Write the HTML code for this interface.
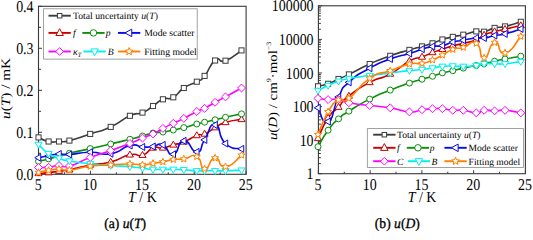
<!DOCTYPE html>
<html><head><meta charset="utf-8"><style>html,body{margin:0;padding:0;background:#fff;width:533px;height:231px;overflow:hidden}</style></head>
<body><svg width="533" height="231" viewBox="0 0 533 231" style="display:block;font-family:'Liberation Serif', serif;text-rendering:geometricPrecision"><rect width="533" height="231" fill="#fff"/><rect x="38.5" y="6.3" width="207.60" height="168.00" fill="none" stroke="#383838" stroke-width="1.1"/><line x1="38.50" y1="174.3" x2="38.50" y2="170.8" stroke="#383838" stroke-width="1"/><line x1="90.40" y1="174.3" x2="90.40" y2="170.8" stroke="#383838" stroke-width="1"/><line x1="142.30" y1="174.3" x2="142.30" y2="170.8" stroke="#383838" stroke-width="1"/><line x1="194.20" y1="174.3" x2="194.20" y2="170.8" stroke="#383838" stroke-width="1"/><line x1="246.10" y1="174.3" x2="246.10" y2="170.8" stroke="#383838" stroke-width="1"/><line x1="64.45" y1="174.3" x2="64.45" y2="172.3" stroke="#383838" stroke-width="1"/><line x1="116.35" y1="174.3" x2="116.35" y2="172.3" stroke="#383838" stroke-width="1"/><line x1="168.25" y1="174.3" x2="168.25" y2="172.3" stroke="#383838" stroke-width="1"/><line x1="220.15" y1="174.3" x2="220.15" y2="172.3" stroke="#383838" stroke-width="1"/><line x1="38.5" y1="174.30" x2="42.0" y2="174.30" stroke="#383838" stroke-width="1"/><line x1="38.5" y1="132.30" x2="42.0" y2="132.30" stroke="#383838" stroke-width="1"/><line x1="38.5" y1="90.30" x2="42.0" y2="90.30" stroke="#383838" stroke-width="1"/><line x1="38.5" y1="48.30" x2="42.0" y2="48.30" stroke="#383838" stroke-width="1"/><line x1="38.5" y1="6.30" x2="42.0" y2="6.30" stroke="#383838" stroke-width="1"/><line x1="38.5" y1="153.30" x2="41.0" y2="153.30" stroke="#383838" stroke-width="1"/><line x1="38.5" y1="111.30" x2="41.0" y2="111.30" stroke="#383838" stroke-width="1"/><line x1="38.5" y1="69.30" x2="41.0" y2="69.30" stroke="#383838" stroke-width="1"/><line x1="38.5" y1="27.30" x2="41.0" y2="27.30" stroke="#383838" stroke-width="1"/><path d="M38.50,137.40 C41.87,138.77 41.77,140.13 48.60,141.50 C55.43,142.87 52.07,141.80 59.00,141.50 C65.93,141.20 59.00,143.13 69.40,140.60 C79.80,138.07 76.43,138.47 90.20,133.90 C103.97,129.33 97.47,132.93 110.70,126.90 C123.93,120.87 119.30,120.57 129.90,115.80 C140.50,111.03 134.80,115.87 142.50,112.60 C150.20,109.33 146.20,110.43 153.00,106.00 C159.80,101.57 156.13,102.20 162.90,99.30 C169.67,96.40 166.33,101.07 173.30,97.30 C180.27,93.53 175.97,93.20 183.80,88.00 C191.63,82.80 189.87,85.73 196.80,81.70 C203.73,77.67 198.50,82.97 204.60,75.90 C210.70,68.83 208.13,65.57 215.10,60.50 C222.07,55.43 216.70,64.07 225.50,60.70 C234.30,57.33 236.17,53.83 241.50,50.40" fill="none" stroke="#3c3c3c" stroke-width="1.6" stroke-linejoin="round"/><rect x="35.95" y="134.85" width="5.10" height="5.10" fill="#fff" stroke="#3c3c3c" stroke-width="1.0"/><rect x="46.05" y="138.95" width="5.10" height="5.10" fill="#fff" stroke="#3c3c3c" stroke-width="1.0"/><rect x="56.45" y="138.95" width="5.10" height="5.10" fill="#fff" stroke="#3c3c3c" stroke-width="1.0"/><rect x="66.85" y="138.05" width="5.10" height="5.10" fill="#fff" stroke="#3c3c3c" stroke-width="1.0"/><rect x="87.65" y="131.35" width="5.10" height="5.10" fill="#fff" stroke="#3c3c3c" stroke-width="1.0"/><rect x="108.15" y="124.35" width="5.10" height="5.10" fill="#fff" stroke="#3c3c3c" stroke-width="1.0"/><rect x="127.35" y="113.25" width="5.10" height="5.10" fill="#fff" stroke="#3c3c3c" stroke-width="1.0"/><rect x="139.95" y="110.05" width="5.10" height="5.10" fill="#fff" stroke="#3c3c3c" stroke-width="1.0"/><rect x="150.45" y="103.45" width="5.10" height="5.10" fill="#fff" stroke="#3c3c3c" stroke-width="1.0"/><rect x="160.35" y="96.75" width="5.10" height="5.10" fill="#fff" stroke="#3c3c3c" stroke-width="1.0"/><rect x="170.75" y="94.75" width="5.10" height="5.10" fill="#fff" stroke="#3c3c3c" stroke-width="1.0"/><rect x="181.25" y="85.45" width="5.10" height="5.10" fill="#fff" stroke="#3c3c3c" stroke-width="1.0"/><rect x="194.25" y="79.15" width="5.10" height="5.10" fill="#fff" stroke="#3c3c3c" stroke-width="1.0"/><rect x="202.05" y="73.35" width="5.10" height="5.10" fill="#fff" stroke="#3c3c3c" stroke-width="1.0"/><rect x="212.55" y="57.95" width="5.10" height="5.10" fill="#fff" stroke="#3c3c3c" stroke-width="1.0"/><rect x="222.95" y="58.15" width="5.10" height="5.10" fill="#fff" stroke="#3c3c3c" stroke-width="1.0"/><rect x="238.95" y="47.85" width="5.10" height="5.10" fill="#fff" stroke="#3c3c3c" stroke-width="1.0"/><path d="M38.50,173.40 C41.87,173.13 41.77,173.33 48.60,172.60 C55.43,171.87 52.07,172.13 59.00,171.20 C65.93,170.27 59.00,171.87 69.40,169.80 C79.80,167.73 76.43,167.60 90.20,165.00 C103.97,162.40 97.47,165.40 110.70,162.00 C123.93,158.60 119.30,157.07 129.90,154.80 C140.50,152.53 134.80,157.50 142.50,155.20 C150.20,152.90 146.20,150.33 153.00,147.90 C159.80,145.47 156.13,148.90 162.90,147.90 C169.67,146.90 166.33,146.90 173.30,144.90 C180.27,142.90 175.97,145.03 183.80,141.90 C191.63,138.77 189.87,138.13 196.80,135.50 C203.73,132.87 198.50,136.63 204.60,134.00 C210.70,131.37 208.13,131.47 215.10,127.60 C222.07,123.73 216.70,125.13 225.50,122.40 C234.30,119.67 236.17,120.40 241.50,119.40" fill="none" stroke="#c80000" stroke-width="1.6" stroke-linejoin="round"/><polygon points="38.50,169.68 42.03,175.63 34.97,175.63" fill="#fff" stroke="#c80000" stroke-width="1.0"/><polygon points="48.60,168.88 52.13,174.83 45.07,174.83" fill="#fff" stroke="#c80000" stroke-width="1.0"/><polygon points="59.00,167.48 62.53,173.43 55.47,173.43" fill="#fff" stroke="#c80000" stroke-width="1.0"/><polygon points="69.40,166.08 72.93,172.03 65.87,172.03" fill="#fff" stroke="#c80000" stroke-width="1.0"/><polygon points="90.20,161.28 93.73,167.23 86.67,167.23" fill="#fff" stroke="#c80000" stroke-width="1.0"/><polygon points="110.70,158.28 114.23,164.23 107.17,164.23" fill="#fff" stroke="#c80000" stroke-width="1.0"/><polygon points="129.90,151.08 133.43,157.03 126.37,157.03" fill="#fff" stroke="#c80000" stroke-width="1.0"/><polygon points="142.50,151.48 146.03,157.43 138.97,157.43" fill="#fff" stroke="#c80000" stroke-width="1.0"/><polygon points="153.00,144.18 156.53,150.13 149.47,150.13" fill="#fff" stroke="#c80000" stroke-width="1.0"/><polygon points="162.90,144.18 166.43,150.13 159.37,150.13" fill="#fff" stroke="#c80000" stroke-width="1.0"/><polygon points="173.30,141.18 176.83,147.13 169.77,147.13" fill="#fff" stroke="#c80000" stroke-width="1.0"/><polygon points="183.80,138.18 187.33,144.13 180.27,144.13" fill="#fff" stroke="#c80000" stroke-width="1.0"/><polygon points="196.80,131.78 200.33,137.73 193.27,137.73" fill="#fff" stroke="#c80000" stroke-width="1.0"/><polygon points="204.60,130.28 208.13,136.23 201.07,136.23" fill="#fff" stroke="#c80000" stroke-width="1.0"/><polygon points="215.10,123.88 218.63,129.83 211.57,129.83" fill="#fff" stroke="#c80000" stroke-width="1.0"/><polygon points="225.50,118.68 229.03,124.63 221.97,124.63" fill="#fff" stroke="#c80000" stroke-width="1.0"/><polygon points="241.50,115.68 245.03,121.63 237.97,121.63" fill="#fff" stroke="#c80000" stroke-width="1.0"/><path d="M38.50,161.30 C41.87,160.50 41.77,160.67 48.60,158.90 C55.43,157.13 52.07,157.87 59.00,156.00 C65.93,154.13 59.00,155.77 69.40,153.30 C79.80,150.83 76.43,151.70 90.20,148.60 C103.97,145.50 97.47,147.10 110.70,144.00 C123.93,140.90 119.30,141.97 129.90,139.30 C140.50,136.63 134.80,138.10 142.50,136.00 C150.20,133.90 146.20,134.33 153.00,133.00 C159.80,131.67 156.13,133.00 162.90,132.00 C169.67,131.00 166.33,131.47 173.30,130.00 C180.27,128.53 175.97,129.60 183.80,127.60 C191.63,125.60 189.87,125.80 196.80,124.00 C203.73,122.20 198.50,123.60 204.60,122.20 C210.70,120.80 208.13,121.43 215.10,119.80 C222.07,118.17 216.70,119.27 225.50,117.30 C234.30,115.33 236.17,115.03 241.50,113.90" fill="none" stroke="#0a900a" stroke-width="1.6" stroke-linejoin="round"/><circle cx="38.50" cy="161.30" r="3.00" fill="#fff" stroke="#0a900a" stroke-width="1.0"/><circle cx="48.60" cy="158.90" r="3.00" fill="#fff" stroke="#0a900a" stroke-width="1.0"/><circle cx="59.00" cy="156.00" r="3.00" fill="#fff" stroke="#0a900a" stroke-width="1.0"/><circle cx="69.40" cy="153.30" r="3.00" fill="#fff" stroke="#0a900a" stroke-width="1.0"/><circle cx="90.20" cy="148.60" r="3.00" fill="#fff" stroke="#0a900a" stroke-width="1.0"/><circle cx="110.70" cy="144.00" r="3.00" fill="#fff" stroke="#0a900a" stroke-width="1.0"/><circle cx="129.90" cy="139.30" r="3.00" fill="#fff" stroke="#0a900a" stroke-width="1.0"/><circle cx="142.50" cy="136.00" r="3.00" fill="#fff" stroke="#0a900a" stroke-width="1.0"/><circle cx="153.00" cy="133.00" r="3.00" fill="#fff" stroke="#0a900a" stroke-width="1.0"/><circle cx="162.90" cy="132.00" r="3.00" fill="#fff" stroke="#0a900a" stroke-width="1.0"/><circle cx="173.30" cy="130.00" r="3.00" fill="#fff" stroke="#0a900a" stroke-width="1.0"/><circle cx="183.80" cy="127.60" r="3.00" fill="#fff" stroke="#0a900a" stroke-width="1.0"/><circle cx="196.80" cy="124.00" r="3.00" fill="#fff" stroke="#0a900a" stroke-width="1.0"/><circle cx="204.60" cy="122.20" r="3.00" fill="#fff" stroke="#0a900a" stroke-width="1.0"/><circle cx="215.10" cy="119.80" r="3.00" fill="#fff" stroke="#0a900a" stroke-width="1.0"/><circle cx="225.50" cy="117.30" r="3.00" fill="#fff" stroke="#0a900a" stroke-width="1.0"/><circle cx="241.50" cy="113.90" r="3.00" fill="#fff" stroke="#0a900a" stroke-width="1.0"/><path d="M38.50,157.70 C41.87,157.07 41.77,157.03 48.60,155.80 C55.43,154.57 52.07,154.43 59.00,154.00 C65.93,153.57 59.00,155.10 69.40,154.50 C79.80,153.90 76.43,152.47 90.20,152.20 C103.97,151.93 97.47,155.93 110.70,153.70 C123.93,151.47 119.30,147.73 129.90,145.50 C140.50,143.27 134.80,146.67 142.50,147.00 C150.20,147.33 146.20,147.20 153.00,146.50 C159.80,145.80 156.13,142.30 162.90,144.90 C169.67,147.50 166.33,155.63 173.30,154.30 C180.27,152.97 175.97,141.70 183.80,140.90 C191.63,140.10 189.87,152.23 196.80,151.90 C203.73,151.57 198.50,148.87 204.60,139.90 C210.70,130.93 208.13,123.80 215.10,125.00 C222.07,126.20 216.70,135.53 225.50,143.50 C234.30,151.47 236.17,147.10 241.50,148.90" fill="none" stroke="#0a0ae6" stroke-width="1.6" stroke-linejoin="round"/><polygon points="34.78,157.70 40.73,154.17 40.73,161.23" fill="#fff" stroke="#0a0ae6" stroke-width="1.0"/><polygon points="44.88,155.80 50.83,152.27 50.83,159.33" fill="#fff" stroke="#0a0ae6" stroke-width="1.0"/><polygon points="55.28,154.00 61.23,150.47 61.23,157.53" fill="#fff" stroke="#0a0ae6" stroke-width="1.0"/><polygon points="65.68,154.50 71.63,150.97 71.63,158.03" fill="#fff" stroke="#0a0ae6" stroke-width="1.0"/><polygon points="86.48,152.20 92.43,148.67 92.43,155.73" fill="#fff" stroke="#0a0ae6" stroke-width="1.0"/><polygon points="106.98,153.70 112.93,150.17 112.93,157.23" fill="#fff" stroke="#0a0ae6" stroke-width="1.0"/><polygon points="126.18,145.50 132.13,141.97 132.13,149.03" fill="#fff" stroke="#0a0ae6" stroke-width="1.0"/><polygon points="138.78,147.00 144.73,143.47 144.73,150.53" fill="#fff" stroke="#0a0ae6" stroke-width="1.0"/><polygon points="149.28,146.50 155.23,142.97 155.23,150.03" fill="#fff" stroke="#0a0ae6" stroke-width="1.0"/><polygon points="159.18,144.90 165.13,141.37 165.13,148.43" fill="#fff" stroke="#0a0ae6" stroke-width="1.0"/><polygon points="169.58,154.30 175.53,150.77 175.53,157.83" fill="#fff" stroke="#0a0ae6" stroke-width="1.0"/><polygon points="180.08,140.90 186.03,137.37 186.03,144.43" fill="#fff" stroke="#0a0ae6" stroke-width="1.0"/><polygon points="193.08,151.90 199.03,148.37 199.03,155.43" fill="#fff" stroke="#0a0ae6" stroke-width="1.0"/><polygon points="200.88,139.90 206.83,136.37 206.83,143.43" fill="#fff" stroke="#0a0ae6" stroke-width="1.0"/><polygon points="211.38,125.00 217.33,121.47 217.33,128.53" fill="#fff" stroke="#0a0ae6" stroke-width="1.0"/><polygon points="221.78,143.50 227.73,139.97 227.73,147.03" fill="#fff" stroke="#0a0ae6" stroke-width="1.0"/><polygon points="237.78,148.90 243.73,145.37 243.73,152.43" fill="#fff" stroke="#0a0ae6" stroke-width="1.0"/><path d="M38.50,167.50 C41.87,167.43 41.77,167.97 48.60,167.30 C55.43,166.63 52.07,165.93 59.00,165.50 C65.93,165.07 59.00,168.67 69.40,166.00 C79.80,163.33 76.43,162.63 90.20,157.50 C103.97,152.37 97.47,155.30 110.70,150.60 C123.93,145.90 119.30,147.57 129.90,143.40 C140.50,139.23 134.80,141.27 142.50,138.10 C150.20,134.93 146.20,137.13 153.00,133.90 C159.80,130.67 156.13,131.93 162.90,128.40 C169.67,124.87 166.33,126.63 173.30,123.30 C180.27,119.97 175.97,122.33 183.80,118.40 C191.63,114.47 189.87,114.87 196.80,111.50 C203.73,108.13 198.50,111.37 204.60,108.30 C210.70,105.23 208.13,106.10 215.10,102.30 C222.07,98.50 216.70,101.67 225.50,96.90 C234.30,92.13 236.17,90.97 241.50,88.00" fill="none" stroke="#ff00ff" stroke-width="1.6" stroke-linejoin="round"/><polygon points="38.50,163.54 42.46,167.50 38.50,171.46 34.54,167.50" fill="#fff" stroke="#ff00ff" stroke-width="1.0"/><polygon points="48.60,163.34 52.56,167.30 48.60,171.26 44.64,167.30" fill="#fff" stroke="#ff00ff" stroke-width="1.0"/><polygon points="59.00,161.54 62.96,165.50 59.00,169.46 55.04,165.50" fill="#fff" stroke="#ff00ff" stroke-width="1.0"/><polygon points="69.40,162.04 73.36,166.00 69.40,169.96 65.44,166.00" fill="#fff" stroke="#ff00ff" stroke-width="1.0"/><polygon points="90.20,153.54 94.16,157.50 90.20,161.46 86.24,157.50" fill="#fff" stroke="#ff00ff" stroke-width="1.0"/><polygon points="110.70,146.64 114.66,150.60 110.70,154.56 106.74,150.60" fill="#fff" stroke="#ff00ff" stroke-width="1.0"/><polygon points="129.90,139.44 133.86,143.40 129.90,147.36 125.94,143.40" fill="#fff" stroke="#ff00ff" stroke-width="1.0"/><polygon points="142.50,134.14 146.46,138.10 142.50,142.06 138.54,138.10" fill="#fff" stroke="#ff00ff" stroke-width="1.0"/><polygon points="153.00,129.94 156.96,133.90 153.00,137.86 149.04,133.90" fill="#fff" stroke="#ff00ff" stroke-width="1.0"/><polygon points="162.90,124.44 166.86,128.40 162.90,132.36 158.94,128.40" fill="#fff" stroke="#ff00ff" stroke-width="1.0"/><polygon points="173.30,119.34 177.26,123.30 173.30,127.26 169.34,123.30" fill="#fff" stroke="#ff00ff" stroke-width="1.0"/><polygon points="183.80,114.44 187.76,118.40 183.80,122.36 179.84,118.40" fill="#fff" stroke="#ff00ff" stroke-width="1.0"/><polygon points="196.80,107.54 200.76,111.50 196.80,115.46 192.84,111.50" fill="#fff" stroke="#ff00ff" stroke-width="1.0"/><polygon points="204.60,104.34 208.56,108.30 204.60,112.26 200.64,108.30" fill="#fff" stroke="#ff00ff" stroke-width="1.0"/><polygon points="215.10,98.34 219.06,102.30 215.10,106.26 211.14,102.30" fill="#fff" stroke="#ff00ff" stroke-width="1.0"/><polygon points="225.50,92.94 229.46,96.90 225.50,100.86 221.54,96.90" fill="#fff" stroke="#ff00ff" stroke-width="1.0"/><polygon points="241.50,84.04 245.46,88.00 241.50,91.96 237.54,88.00" fill="#fff" stroke="#ff00ff" stroke-width="1.0"/><path d="M38.50,144.50 C41.87,147.53 41.77,149.03 48.60,153.60 C55.43,158.17 52.07,155.73 59.00,158.20 C65.93,160.67 59.00,159.20 69.40,161.00 C79.80,162.80 76.43,162.10 90.20,163.60 C103.97,165.10 97.47,164.47 110.70,165.50 C123.93,166.53 119.30,165.77 129.90,166.70 C140.50,167.63 134.80,167.40 142.50,168.30 C150.20,169.20 146.20,169.03 153.00,169.40 C159.80,169.77 156.13,169.40 162.90,169.40 C169.67,169.40 166.33,169.27 173.30,169.40 C180.27,169.53 175.97,169.33 183.80,169.80 C191.63,170.27 189.87,170.47 196.80,170.80 C203.73,171.13 198.50,170.80 204.60,170.80 C210.70,170.80 208.13,170.80 215.10,170.80 C222.07,170.80 216.70,171.00 225.50,170.80 C234.30,170.60 236.17,170.40 241.50,170.20" fill="none" stroke="#00f0f0" stroke-width="1.6" stroke-linejoin="round"/><polygon points="38.50,148.22 42.03,142.27 34.97,142.27" fill="#fff" stroke="#00f0f0" stroke-width="1.0"/><polygon points="48.60,157.32 52.13,151.37 45.07,151.37" fill="#fff" stroke="#00f0f0" stroke-width="1.0"/><polygon points="59.00,161.92 62.53,155.97 55.47,155.97" fill="#fff" stroke="#00f0f0" stroke-width="1.0"/><polygon points="69.40,164.72 72.93,158.77 65.87,158.77" fill="#fff" stroke="#00f0f0" stroke-width="1.0"/><polygon points="90.20,167.32 93.73,161.37 86.67,161.37" fill="#fff" stroke="#00f0f0" stroke-width="1.0"/><polygon points="110.70,169.22 114.23,163.27 107.17,163.27" fill="#fff" stroke="#00f0f0" stroke-width="1.0"/><polygon points="129.90,170.42 133.43,164.47 126.37,164.47" fill="#fff" stroke="#00f0f0" stroke-width="1.0"/><polygon points="142.50,172.02 146.03,166.07 138.97,166.07" fill="#fff" stroke="#00f0f0" stroke-width="1.0"/><polygon points="153.00,173.12 156.53,167.17 149.47,167.17" fill="#fff" stroke="#00f0f0" stroke-width="1.0"/><polygon points="162.90,173.12 166.43,167.17 159.37,167.17" fill="#fff" stroke="#00f0f0" stroke-width="1.0"/><polygon points="173.30,173.12 176.83,167.17 169.77,167.17" fill="#fff" stroke="#00f0f0" stroke-width="1.0"/><polygon points="183.80,173.52 187.33,167.57 180.27,167.57" fill="#fff" stroke="#00f0f0" stroke-width="1.0"/><polygon points="196.80,174.52 200.33,168.57 193.27,168.57" fill="#fff" stroke="#00f0f0" stroke-width="1.0"/><polygon points="204.60,174.52 208.13,168.57 201.07,168.57" fill="#fff" stroke="#00f0f0" stroke-width="1.0"/><polygon points="215.10,174.52 218.63,168.57 211.57,168.57" fill="#fff" stroke="#00f0f0" stroke-width="1.0"/><polygon points="225.50,174.52 229.03,168.57 221.97,168.57" fill="#fff" stroke="#00f0f0" stroke-width="1.0"/><polygon points="241.50,173.92 245.03,167.97 237.97,167.97" fill="#fff" stroke="#00f0f0" stroke-width="1.0"/><path d="M38.50,172.50 C41.87,171.80 41.77,171.53 48.60,170.40 C55.43,169.27 52.07,169.23 59.00,169.10 C65.93,168.97 59.00,170.93 69.40,170.00 C79.80,169.07 76.43,167.97 90.20,166.30 C103.97,164.63 97.47,165.77 110.70,165.00 C123.93,164.23 119.30,164.03 129.90,164.00 C140.50,163.97 134.80,165.10 142.50,164.90 C150.20,164.70 146.20,164.40 153.00,163.40 C159.80,162.40 156.13,163.20 162.90,161.90 C169.67,160.60 166.33,160.47 173.30,159.50 C180.27,158.53 175.97,159.97 183.80,159.00 C191.63,158.03 189.87,153.33 196.80,156.60 C203.73,159.87 198.50,168.33 204.60,168.80 C210.70,169.27 208.13,158.67 215.10,158.00 C222.07,157.33 216.70,167.73 225.50,166.80 C234.30,165.87 236.17,159.07 241.50,155.20" fill="none" stroke="#ff8000" stroke-width="1.6" stroke-linejoin="round"/><polygon points="38.50,168.78 39.48,171.15 42.04,171.35 40.09,173.02 40.69,175.51 38.50,174.17 36.31,175.51 36.91,173.02 34.96,171.35 37.52,171.15" fill="#fff" stroke="#ff8000" stroke-width="1.0"/><polygon points="48.60,166.68 49.58,169.05 52.14,169.25 50.19,170.92 50.79,173.41 48.60,172.07 46.41,173.41 47.01,170.92 45.06,169.25 47.62,169.05" fill="#fff" stroke="#ff8000" stroke-width="1.0"/><polygon points="59.00,165.38 59.98,167.75 62.54,167.95 60.59,169.62 61.19,172.11 59.00,170.77 56.81,172.11 57.41,169.62 55.46,167.95 58.02,167.75" fill="#fff" stroke="#ff8000" stroke-width="1.0"/><polygon points="69.40,166.28 70.38,168.65 72.94,168.85 70.99,170.52 71.59,173.01 69.40,171.67 67.21,173.01 67.81,170.52 65.86,168.85 68.42,168.65" fill="#fff" stroke="#ff8000" stroke-width="1.0"/><polygon points="90.20,162.58 91.18,164.95 93.74,165.15 91.79,166.82 92.39,169.31 90.20,167.97 88.01,169.31 88.61,166.82 86.66,165.15 89.22,164.95" fill="#fff" stroke="#ff8000" stroke-width="1.0"/><polygon points="110.70,161.28 111.68,163.65 114.24,163.85 112.29,165.52 112.89,168.01 110.70,166.67 108.51,168.01 109.11,165.52 107.16,163.85 109.72,163.65" fill="#fff" stroke="#ff8000" stroke-width="1.0"/><polygon points="129.90,160.28 130.88,162.65 133.44,162.85 131.49,164.52 132.09,167.01 129.90,165.67 127.71,167.01 128.31,164.52 126.36,162.85 128.92,162.65" fill="#fff" stroke="#ff8000" stroke-width="1.0"/><polygon points="142.50,161.18 143.48,163.55 146.04,163.75 144.09,165.42 144.69,167.91 142.50,166.57 140.31,167.91 140.91,165.42 138.96,163.75 141.52,163.55" fill="#fff" stroke="#ff8000" stroke-width="1.0"/><polygon points="153.00,159.68 153.98,162.05 156.54,162.25 154.59,163.92 155.19,166.41 153.00,165.07 150.81,166.41 151.41,163.92 149.46,162.25 152.02,162.05" fill="#fff" stroke="#ff8000" stroke-width="1.0"/><polygon points="162.90,158.18 163.88,160.55 166.44,160.75 164.49,162.42 165.09,164.91 162.90,163.57 160.71,164.91 161.31,162.42 159.36,160.75 161.92,160.55" fill="#fff" stroke="#ff8000" stroke-width="1.0"/><polygon points="173.30,155.78 174.28,158.15 176.84,158.35 174.89,160.02 175.49,162.51 173.30,161.17 171.11,162.51 171.71,160.02 169.76,158.35 172.32,158.15" fill="#fff" stroke="#ff8000" stroke-width="1.0"/><polygon points="183.80,155.28 184.78,157.65 187.34,157.85 185.39,159.52 185.99,162.01 183.80,160.67 181.61,162.01 182.21,159.52 180.26,157.85 182.82,157.65" fill="#fff" stroke="#ff8000" stroke-width="1.0"/><polygon points="196.80,152.88 197.78,155.25 200.34,155.45 198.39,157.12 198.99,159.61 196.80,158.27 194.61,159.61 195.21,157.12 193.26,155.45 195.82,155.25" fill="#fff" stroke="#ff8000" stroke-width="1.0"/><polygon points="204.60,165.08 205.58,167.45 208.14,167.65 206.19,169.32 206.79,171.81 204.60,170.47 202.41,171.81 203.01,169.32 201.06,167.65 203.62,167.45" fill="#fff" stroke="#ff8000" stroke-width="1.0"/><polygon points="215.10,154.28 216.08,156.65 218.64,156.85 216.69,158.52 217.29,161.01 215.10,159.67 212.91,161.01 213.51,158.52 211.56,156.85 214.12,156.65" fill="#fff" stroke="#ff8000" stroke-width="1.0"/><polygon points="225.50,163.08 226.48,165.45 229.04,165.65 227.09,167.32 227.69,169.81 225.50,168.47 223.31,169.81 223.91,167.32 221.96,165.65 224.52,165.45" fill="#fff" stroke="#ff8000" stroke-width="1.0"/><polygon points="241.50,151.48 242.48,153.85 245.04,154.05 243.09,155.72 243.69,158.21 241.50,156.87 239.31,158.21 239.91,155.72 237.96,154.05 240.52,153.85" fill="#fff" stroke="#ff8000" stroke-width="1.0"/><text transform="translate(33.60,179.80) scale(1.035,1.22)" font-size="13.5" text-anchor="end" >0.0</text><text transform="translate(33.60,137.80) scale(1.035,1.22)" font-size="13.5" text-anchor="end" >0.1</text><text transform="translate(33.60,95.80) scale(1.035,1.22)" font-size="13.5" text-anchor="end" >0.2</text><text transform="translate(33.60,53.80) scale(1.035,1.22)" font-size="13.5" text-anchor="end" >0.3</text><text transform="translate(33.60,11.80) scale(1.035,1.22)" font-size="13.5" text-anchor="end" >0.4</text><text transform="translate(38.20,190.40) scale(1.035,1.22)" font-size="13.5" text-anchor="middle" >5</text><text transform="translate(90.10,190.40) scale(1.035,1.22)" font-size="13.5" text-anchor="middle" >10</text><text transform="translate(142.00,190.40) scale(1.035,1.22)" font-size="13.5" text-anchor="middle" >15</text><text transform="translate(193.90,190.40) scale(1.035,1.22)" font-size="13.5" text-anchor="middle" >20</text><text transform="translate(245.80,190.40) scale(1.035,1.22)" font-size="13.5" text-anchor="middle" >25</text><text transform="translate(142.4,201.9) scale(1.035,1.13)" font-size="13.5" text-anchor="middle"><tspan font-style="italic">T</tspan> / K</text><text transform="translate(10.3,88.4) rotate(-90) scale(1.22,1.035)" font-size="12.5" text-anchor="middle"><tspan font-style="italic">u</tspan>(<tspan font-style="italic">T</tspan>) / mK</text><text transform="translate(125.1,228.2) scale(1,1.05)" font-size="13.6" stroke="#000" stroke-width="0.3" text-anchor="middle">(a) <tspan font-style="italic">u</tspan>(<tspan font-style="italic">T</tspan>)</text><rect x="43.6" y="8.8" width="153.6" height="50.3" fill="#fff" stroke="#8a8a8a" stroke-width="0.8"/><line x1="48.5" y1="15.7" x2="70.8" y2="15.7" stroke="#3c3c3c" stroke-width="1.9"/><rect x="57.40" y="13.45" width="4.50" height="4.50" fill="#fff" stroke="#3c3c3c" stroke-width="1.0"/><text x="73.0" y="19.099999999999998" font-size="9.7">Total uncertainty <tspan font-style="italic">u</tspan>(<tspan font-style="italic">T</tspan>)</text><line x1="48.5" y1="32.9" x2="70.8" y2="32.9" stroke="#c80000" stroke-width="1.9"/><polygon points="59.65,28.70 63.40,35.50 55.90,35.50" fill="#fff" stroke="#c80000" stroke-width="1"/><text x="73.0" y="36.3" font-size="9.7"><tspan font-style="italic">f</tspan></text><line x1="82.3" y1="32.9" x2="104.6" y2="32.9" stroke="#0a900a" stroke-width="1.9"/><circle cx="93.45" cy="32.90" r="3.25" fill="#fff" stroke="#0a900a" stroke-width="1.0"/><text x="105.8" y="36.3" font-size="9.7"><tspan font-style="italic">p</tspan></text><line x1="118.0" y1="32.9" x2="140.3" y2="32.9" stroke="#0a0ae6" stroke-width="1.9"/><polygon points="124.95,32.90 131.75,29.15 131.75,36.65" fill="#fff" stroke="#0a0ae6" stroke-width="1"/><text x="144.2" y="36.3" font-size="9.7">Mode scatter</text><line x1="48.5" y1="51.5" x2="70.8" y2="51.5" stroke="#ff00ff" stroke-width="1.9"/><polygon points="59.65,47.67 63.48,51.50 59.65,55.33 55.82,51.50" fill="#fff" stroke="#ff00ff" stroke-width="1.0"/><text x="73.0" y="54.9" font-size="9.7"><tspan font-style="italic">κ<tspan font-size="6.5" dy="2">T</tspan></tspan></text><line x1="83.5" y1="51.5" x2="105.8" y2="51.5" stroke="#00f0f0" stroke-width="1.9"/><polygon points="94.65,55.70 98.40,48.90 90.90,48.90" fill="#fff" stroke="#00f0f0" stroke-width="1"/><text x="107.7" y="54.9" font-size="9.7"><tspan font-style="italic">B</tspan></text><line x1="118.0" y1="51.5" x2="140.3" y2="51.5" stroke="#ff8000" stroke-width="1.9"/><polygon points="129.15,47.47 130.22,50.03 132.98,50.25 130.87,52.06 131.52,54.76 129.15,53.31 126.78,54.76 127.43,52.06 125.32,50.25 128.08,50.03" fill="#fff" stroke="#ff8000" stroke-width="1.0"/><text x="144.2" y="54.9" font-size="9.7">Fitting model</text><rect x="318.4" y="5.8" width="207.00" height="167.90" fill="none" stroke="#383838" stroke-width="1.1"/><line x1="318.40" y1="173.7" x2="318.40" y2="170.2" stroke="#383838" stroke-width="1"/><line x1="370.15" y1="173.7" x2="370.15" y2="170.2" stroke="#383838" stroke-width="1"/><line x1="421.90" y1="173.7" x2="421.90" y2="170.2" stroke="#383838" stroke-width="1"/><line x1="473.65" y1="173.7" x2="473.65" y2="170.2" stroke="#383838" stroke-width="1"/><line x1="525.40" y1="173.7" x2="525.40" y2="170.2" stroke="#383838" stroke-width="1"/><line x1="344.27" y1="173.7" x2="344.27" y2="171.7" stroke="#383838" stroke-width="1"/><line x1="396.02" y1="173.7" x2="396.02" y2="171.7" stroke="#383838" stroke-width="1"/><line x1="447.77" y1="173.7" x2="447.77" y2="171.7" stroke="#383838" stroke-width="1"/><line x1="499.52" y1="173.7" x2="499.52" y2="171.7" stroke="#383838" stroke-width="1"/><line x1="318.4" y1="173.70" x2="321.9" y2="173.70" stroke="#383838" stroke-width="1"/><line x1="318.4" y1="140.12" x2="321.9" y2="140.12" stroke="#383838" stroke-width="1"/><line x1="318.4" y1="106.54" x2="321.9" y2="106.54" stroke="#383838" stroke-width="1"/><line x1="318.4" y1="72.96" x2="321.9" y2="72.96" stroke="#383838" stroke-width="1"/><line x1="318.4" y1="39.38" x2="321.9" y2="39.38" stroke="#383838" stroke-width="1"/><line x1="318.4" y1="5.80" x2="321.9" y2="5.80" stroke="#383838" stroke-width="1"/><line x1="318.4" y1="163.59" x2="320.9" y2="163.59" stroke="#383838" stroke-width="1"/><line x1="318.4" y1="157.68" x2="320.9" y2="157.68" stroke="#383838" stroke-width="1"/><line x1="318.4" y1="153.48" x2="320.9" y2="153.48" stroke="#383838" stroke-width="1"/><line x1="318.4" y1="150.23" x2="320.9" y2="150.23" stroke="#383838" stroke-width="1"/><line x1="318.4" y1="147.57" x2="320.9" y2="147.57" stroke="#383838" stroke-width="1"/><line x1="318.4" y1="145.32" x2="320.9" y2="145.32" stroke="#383838" stroke-width="1"/><line x1="318.4" y1="143.37" x2="320.9" y2="143.37" stroke="#383838" stroke-width="1"/><line x1="318.4" y1="141.66" x2="320.9" y2="141.66" stroke="#383838" stroke-width="1"/><line x1="318.4" y1="130.01" x2="320.9" y2="130.01" stroke="#383838" stroke-width="1"/><line x1="318.4" y1="124.10" x2="320.9" y2="124.10" stroke="#383838" stroke-width="1"/><line x1="318.4" y1="119.90" x2="320.9" y2="119.90" stroke="#383838" stroke-width="1"/><line x1="318.4" y1="116.65" x2="320.9" y2="116.65" stroke="#383838" stroke-width="1"/><line x1="318.4" y1="113.99" x2="320.9" y2="113.99" stroke="#383838" stroke-width="1"/><line x1="318.4" y1="111.74" x2="320.9" y2="111.74" stroke="#383838" stroke-width="1"/><line x1="318.4" y1="109.79" x2="320.9" y2="109.79" stroke="#383838" stroke-width="1"/><line x1="318.4" y1="108.08" x2="320.9" y2="108.08" stroke="#383838" stroke-width="1"/><line x1="318.4" y1="96.43" x2="320.9" y2="96.43" stroke="#383838" stroke-width="1"/><line x1="318.4" y1="90.52" x2="320.9" y2="90.52" stroke="#383838" stroke-width="1"/><line x1="318.4" y1="86.32" x2="320.9" y2="86.32" stroke="#383838" stroke-width="1"/><line x1="318.4" y1="83.07" x2="320.9" y2="83.07" stroke="#383838" stroke-width="1"/><line x1="318.4" y1="80.41" x2="320.9" y2="80.41" stroke="#383838" stroke-width="1"/><line x1="318.4" y1="78.16" x2="320.9" y2="78.16" stroke="#383838" stroke-width="1"/><line x1="318.4" y1="76.21" x2="320.9" y2="76.21" stroke="#383838" stroke-width="1"/><line x1="318.4" y1="74.50" x2="320.9" y2="74.50" stroke="#383838" stroke-width="1"/><line x1="318.4" y1="62.85" x2="320.9" y2="62.85" stroke="#383838" stroke-width="1"/><line x1="318.4" y1="56.94" x2="320.9" y2="56.94" stroke="#383838" stroke-width="1"/><line x1="318.4" y1="52.74" x2="320.9" y2="52.74" stroke="#383838" stroke-width="1"/><line x1="318.4" y1="49.49" x2="320.9" y2="49.49" stroke="#383838" stroke-width="1"/><line x1="318.4" y1="46.83" x2="320.9" y2="46.83" stroke="#383838" stroke-width="1"/><line x1="318.4" y1="44.58" x2="320.9" y2="44.58" stroke="#383838" stroke-width="1"/><line x1="318.4" y1="42.63" x2="320.9" y2="42.63" stroke="#383838" stroke-width="1"/><line x1="318.4" y1="40.92" x2="320.9" y2="40.92" stroke="#383838" stroke-width="1"/><line x1="318.4" y1="29.27" x2="320.9" y2="29.27" stroke="#383838" stroke-width="1"/><line x1="318.4" y1="23.36" x2="320.9" y2="23.36" stroke="#383838" stroke-width="1"/><line x1="318.4" y1="19.16" x2="320.9" y2="19.16" stroke="#383838" stroke-width="1"/><line x1="318.4" y1="15.91" x2="320.9" y2="15.91" stroke="#383838" stroke-width="1"/><line x1="318.4" y1="13.25" x2="320.9" y2="13.25" stroke="#383838" stroke-width="1"/><line x1="318.4" y1="11.00" x2="320.9" y2="11.00" stroke="#383838" stroke-width="1"/><line x1="318.4" y1="9.05" x2="320.9" y2="9.05" stroke="#383838" stroke-width="1"/><line x1="318.4" y1="7.34" x2="320.9" y2="7.34" stroke="#383838" stroke-width="1"/><path d="M318.00,86.30 C321.37,85.47 321.27,86.23 328.10,83.80 C334.93,81.37 331.57,82.13 338.50,79.00 C345.43,75.87 338.50,79.40 348.90,74.40 C359.30,69.40 355.93,70.20 369.70,64.00 C383.47,57.80 376.97,60.50 390.20,55.80 C403.43,51.10 398.80,53.03 409.40,49.90 C420.00,46.77 414.30,48.60 422.00,46.40 C429.70,44.20 425.70,45.60 432.50,43.30 C439.30,41.00 435.63,41.63 442.40,39.50 C449.17,37.37 445.83,38.50 452.80,36.90 C459.77,35.30 455.47,36.53 463.30,34.70 C471.13,32.87 469.37,32.40 476.30,31.40 C483.23,30.40 478.00,32.87 484.10,31.70 C490.20,30.53 487.63,29.67 494.60,27.90 C501.57,26.13 496.27,28.43 505.00,26.40 C513.73,24.37 515.53,23.33 520.80,21.80" fill="none" stroke="#3c3c3c" stroke-width="1.6" stroke-linejoin="round"/><rect x="315.45" y="83.75" width="5.10" height="5.10" fill="#fff" stroke="#3c3c3c" stroke-width="1.0"/><rect x="325.55" y="81.25" width="5.10" height="5.10" fill="#fff" stroke="#3c3c3c" stroke-width="1.0"/><rect x="335.95" y="76.45" width="5.10" height="5.10" fill="#fff" stroke="#3c3c3c" stroke-width="1.0"/><rect x="346.35" y="71.85" width="5.10" height="5.10" fill="#fff" stroke="#3c3c3c" stroke-width="1.0"/><rect x="367.15" y="61.45" width="5.10" height="5.10" fill="#fff" stroke="#3c3c3c" stroke-width="1.0"/><rect x="387.65" y="53.25" width="5.10" height="5.10" fill="#fff" stroke="#3c3c3c" stroke-width="1.0"/><rect x="406.85" y="47.35" width="5.10" height="5.10" fill="#fff" stroke="#3c3c3c" stroke-width="1.0"/><rect x="419.45" y="43.85" width="5.10" height="5.10" fill="#fff" stroke="#3c3c3c" stroke-width="1.0"/><rect x="429.95" y="40.75" width="5.10" height="5.10" fill="#fff" stroke="#3c3c3c" stroke-width="1.0"/><rect x="439.85" y="36.95" width="5.10" height="5.10" fill="#fff" stroke="#3c3c3c" stroke-width="1.0"/><rect x="450.25" y="34.35" width="5.10" height="5.10" fill="#fff" stroke="#3c3c3c" stroke-width="1.0"/><rect x="460.75" y="32.15" width="5.10" height="5.10" fill="#fff" stroke="#3c3c3c" stroke-width="1.0"/><rect x="473.75" y="28.85" width="5.10" height="5.10" fill="#fff" stroke="#3c3c3c" stroke-width="1.0"/><rect x="481.55" y="29.15" width="5.10" height="5.10" fill="#fff" stroke="#3c3c3c" stroke-width="1.0"/><rect x="492.05" y="25.35" width="5.10" height="5.10" fill="#fff" stroke="#3c3c3c" stroke-width="1.0"/><rect x="502.45" y="23.85" width="5.10" height="5.10" fill="#fff" stroke="#3c3c3c" stroke-width="1.0"/><rect x="518.25" y="19.25" width="5.10" height="5.10" fill="#fff" stroke="#3c3c3c" stroke-width="1.0"/><path d="M318.00,138.40 C321.37,131.60 321.27,128.43 328.10,118.00 C334.93,107.57 331.57,114.43 338.50,107.10 C345.43,99.77 338.50,104.23 348.90,96.00 C359.30,87.77 355.93,89.73 369.70,82.40 C383.47,75.07 376.97,81.10 390.20,74.00 C403.43,66.90 398.80,66.77 409.40,61.10 C420.00,55.43 414.30,59.87 422.00,57.00 C429.70,54.13 425.70,55.07 432.50,52.50 C439.30,49.93 435.63,51.53 442.40,49.30 C449.17,47.07 445.83,47.77 452.80,45.80 C459.77,43.83 455.47,45.40 463.30,43.40 C471.13,41.40 469.37,42.60 476.30,39.80 C483.23,37.00 478.00,37.73 484.10,35.00 C490.20,32.27 487.63,33.53 494.60,31.60 C501.57,29.67 496.27,31.23 505.00,29.20 C513.73,27.17 515.53,26.73 520.80,25.50" fill="none" stroke="#c80000" stroke-width="1.6" stroke-linejoin="round"/><polygon points="318.00,134.68 321.53,140.63 314.47,140.63" fill="#fff" stroke="#c80000" stroke-width="1.0"/><polygon points="328.10,114.28 331.63,120.23 324.57,120.23" fill="#fff" stroke="#c80000" stroke-width="1.0"/><polygon points="338.50,103.38 342.03,109.33 334.97,109.33" fill="#fff" stroke="#c80000" stroke-width="1.0"/><polygon points="348.90,92.28 352.43,98.23 345.37,98.23" fill="#fff" stroke="#c80000" stroke-width="1.0"/><polygon points="369.70,78.68 373.23,84.63 366.17,84.63" fill="#fff" stroke="#c80000" stroke-width="1.0"/><polygon points="390.20,70.28 393.73,76.23 386.67,76.23" fill="#fff" stroke="#c80000" stroke-width="1.0"/><polygon points="409.40,57.38 412.93,63.33 405.87,63.33" fill="#fff" stroke="#c80000" stroke-width="1.0"/><polygon points="422.00,53.28 425.53,59.23 418.47,59.23" fill="#fff" stroke="#c80000" stroke-width="1.0"/><polygon points="432.50,48.78 436.03,54.73 428.97,54.73" fill="#fff" stroke="#c80000" stroke-width="1.0"/><polygon points="442.40,45.58 445.93,51.53 438.87,51.53" fill="#fff" stroke="#c80000" stroke-width="1.0"/><polygon points="452.80,42.08 456.33,48.03 449.27,48.03" fill="#fff" stroke="#c80000" stroke-width="1.0"/><polygon points="463.30,39.68 466.83,45.63 459.77,45.63" fill="#fff" stroke="#c80000" stroke-width="1.0"/><polygon points="476.30,36.08 479.83,42.03 472.77,42.03" fill="#fff" stroke="#c80000" stroke-width="1.0"/><polygon points="484.10,31.28 487.63,37.23 480.57,37.23" fill="#fff" stroke="#c80000" stroke-width="1.0"/><polygon points="494.60,27.88 498.13,33.83 491.07,33.83" fill="#fff" stroke="#c80000" stroke-width="1.0"/><polygon points="505.00,25.48 508.53,31.43 501.47,31.43" fill="#fff" stroke="#c80000" stroke-width="1.0"/><polygon points="520.80,21.78 524.33,27.73 517.27,27.73" fill="#fff" stroke="#c80000" stroke-width="1.0"/><path d="M318.00,146.70 C321.37,141.20 321.27,139.47 328.10,130.20 C334.93,120.93 331.57,125.23 338.50,118.90 C345.43,112.57 338.50,117.80 348.90,111.20 C359.30,104.60 355.93,106.13 369.70,99.10 C383.47,92.07 376.97,95.43 390.20,90.10 C403.43,84.77 398.80,86.73 409.40,83.10 C420.00,79.47 414.30,81.47 422.00,79.20 C429.70,76.93 425.70,78.40 432.50,76.30 C439.30,74.20 435.63,74.77 442.40,72.90 C449.17,71.03 445.83,72.30 452.80,70.70 C459.77,69.10 455.47,69.83 463.30,68.10 C471.13,66.37 469.37,66.93 476.30,65.50 C483.23,64.07 478.00,65.23 484.10,63.80 C490.20,62.37 487.63,62.80 494.60,61.20 C501.57,59.60 496.27,60.67 505.00,59.00 C513.73,57.33 515.53,57.13 520.80,56.20" fill="none" stroke="#0a900a" stroke-width="1.6" stroke-linejoin="round"/><circle cx="318.00" cy="146.70" r="3.00" fill="#fff" stroke="#0a900a" stroke-width="1.0"/><circle cx="328.10" cy="130.20" r="3.00" fill="#fff" stroke="#0a900a" stroke-width="1.0"/><circle cx="338.50" cy="118.90" r="3.00" fill="#fff" stroke="#0a900a" stroke-width="1.0"/><circle cx="348.90" cy="111.20" r="3.00" fill="#fff" stroke="#0a900a" stroke-width="1.0"/><circle cx="369.70" cy="99.10" r="3.00" fill="#fff" stroke="#0a900a" stroke-width="1.0"/><circle cx="390.20" cy="90.10" r="3.00" fill="#fff" stroke="#0a900a" stroke-width="1.0"/><circle cx="409.40" cy="83.10" r="3.00" fill="#fff" stroke="#0a900a" stroke-width="1.0"/><circle cx="422.00" cy="79.20" r="3.00" fill="#fff" stroke="#0a900a" stroke-width="1.0"/><circle cx="432.50" cy="76.30" r="3.00" fill="#fff" stroke="#0a900a" stroke-width="1.0"/><circle cx="442.40" cy="72.90" r="3.00" fill="#fff" stroke="#0a900a" stroke-width="1.0"/><circle cx="452.80" cy="70.70" r="3.00" fill="#fff" stroke="#0a900a" stroke-width="1.0"/><circle cx="463.30" cy="68.10" r="3.00" fill="#fff" stroke="#0a900a" stroke-width="1.0"/><circle cx="476.30" cy="65.50" r="3.00" fill="#fff" stroke="#0a900a" stroke-width="1.0"/><circle cx="484.10" cy="63.80" r="3.00" fill="#fff" stroke="#0a900a" stroke-width="1.0"/><circle cx="494.60" cy="61.20" r="3.00" fill="#fff" stroke="#0a900a" stroke-width="1.0"/><circle cx="505.00" cy="59.00" r="3.00" fill="#fff" stroke="#0a900a" stroke-width="1.0"/><circle cx="520.80" cy="56.20" r="3.00" fill="#fff" stroke="#0a900a" stroke-width="1.0"/><path d="M318.00,107.80 C321.37,112.40 321.27,125.20 328.10,121.60 C334.93,118.00 331.57,110.10 338.50,97.00 C345.43,83.90 338.50,91.90 348.90,82.30 C359.30,72.70 355.93,75.97 369.70,68.20 C383.47,60.43 376.97,63.90 390.20,59.00 C403.43,54.10 398.80,56.77 409.40,53.50 C420.00,50.23 414.30,51.53 422.00,49.20 C429.70,46.87 425.70,47.70 432.50,46.50 C439.30,45.30 435.63,47.07 442.40,45.60 C449.17,44.13 445.83,43.90 452.80,42.10 C459.77,40.30 455.47,41.57 463.30,40.20 C471.13,38.83 469.37,38.73 476.30,38.00 C483.23,37.27 478.00,38.83 484.10,38.00 C490.20,37.17 487.63,36.87 494.60,35.50 C501.57,34.13 496.27,36.10 505.00,33.90 C513.73,31.70 515.53,30.57 520.80,28.90" fill="none" stroke="#0a0ae6" stroke-width="1.6" stroke-linejoin="round"/><polygon points="314.28,107.80 320.23,104.27 320.23,111.33" fill="#fff" stroke="#0a0ae6" stroke-width="1.0"/><polygon points="324.38,121.60 330.33,118.07 330.33,125.13" fill="#fff" stroke="#0a0ae6" stroke-width="1.0"/><polygon points="334.78,97.00 340.73,93.47 340.73,100.53" fill="#fff" stroke="#0a0ae6" stroke-width="1.0"/><polygon points="345.18,82.30 351.13,78.77 351.13,85.83" fill="#fff" stroke="#0a0ae6" stroke-width="1.0"/><polygon points="365.98,68.20 371.93,64.67 371.93,71.73" fill="#fff" stroke="#0a0ae6" stroke-width="1.0"/><polygon points="386.48,59.00 392.43,55.47 392.43,62.53" fill="#fff" stroke="#0a0ae6" stroke-width="1.0"/><polygon points="405.68,53.50 411.63,49.97 411.63,57.03" fill="#fff" stroke="#0a0ae6" stroke-width="1.0"/><polygon points="418.28,49.20 424.23,45.67 424.23,52.73" fill="#fff" stroke="#0a0ae6" stroke-width="1.0"/><polygon points="428.78,46.50 434.73,42.97 434.73,50.03" fill="#fff" stroke="#0a0ae6" stroke-width="1.0"/><polygon points="438.68,45.60 444.63,42.07 444.63,49.13" fill="#fff" stroke="#0a0ae6" stroke-width="1.0"/><polygon points="449.08,42.10 455.03,38.57 455.03,45.63" fill="#fff" stroke="#0a0ae6" stroke-width="1.0"/><polygon points="459.58,40.20 465.53,36.67 465.53,43.73" fill="#fff" stroke="#0a0ae6" stroke-width="1.0"/><polygon points="472.58,38.00 478.53,34.47 478.53,41.53" fill="#fff" stroke="#0a0ae6" stroke-width="1.0"/><polygon points="480.38,38.00 486.33,34.47 486.33,41.53" fill="#fff" stroke="#0a0ae6" stroke-width="1.0"/><polygon points="490.88,35.50 496.83,31.97 496.83,39.03" fill="#fff" stroke="#0a0ae6" stroke-width="1.0"/><polygon points="501.28,33.90 507.23,30.37 507.23,37.43" fill="#fff" stroke="#0a0ae6" stroke-width="1.0"/><polygon points="517.08,28.90 523.03,25.37 523.03,32.43" fill="#fff" stroke="#0a0ae6" stroke-width="1.0"/><path d="M318.00,98.40 C321.37,98.80 321.27,99.27 328.10,99.60 C334.93,99.93 331.57,98.33 338.50,99.40 C345.43,100.47 338.50,100.77 348.90,102.80 C359.30,104.83 355.93,103.83 369.70,105.50 C383.47,107.17 376.97,105.67 390.20,107.80 C403.43,109.93 398.80,111.27 409.40,111.90 C420.00,112.53 414.30,110.77 422.00,109.70 C429.70,108.63 425.70,109.03 432.50,108.70 C439.30,108.37 435.63,108.17 442.40,108.70 C449.17,109.23 445.83,109.77 452.80,110.30 C459.77,110.83 455.47,109.43 463.30,110.30 C471.13,111.17 469.37,112.90 476.30,112.90 C483.23,112.90 478.00,110.97 484.10,110.30 C490.20,109.63 487.63,110.90 494.60,110.90 C501.57,110.90 496.27,109.63 505.00,110.30 C513.73,110.97 515.53,112.03 520.80,112.90" fill="none" stroke="#ff00ff" stroke-width="1.6" stroke-linejoin="round"/><polygon points="318.00,94.44 321.96,98.40 318.00,102.36 314.04,98.40" fill="#fff" stroke="#ff00ff" stroke-width="1.0"/><polygon points="328.10,95.64 332.06,99.60 328.10,103.56 324.14,99.60" fill="#fff" stroke="#ff00ff" stroke-width="1.0"/><polygon points="338.50,95.44 342.46,99.40 338.50,103.36 334.54,99.40" fill="#fff" stroke="#ff00ff" stroke-width="1.0"/><polygon points="348.90,98.84 352.86,102.80 348.90,106.76 344.94,102.80" fill="#fff" stroke="#ff00ff" stroke-width="1.0"/><polygon points="369.70,101.54 373.66,105.50 369.70,109.46 365.74,105.50" fill="#fff" stroke="#ff00ff" stroke-width="1.0"/><polygon points="390.20,103.84 394.16,107.80 390.20,111.76 386.24,107.80" fill="#fff" stroke="#ff00ff" stroke-width="1.0"/><polygon points="409.40,107.94 413.36,111.90 409.40,115.86 405.44,111.90" fill="#fff" stroke="#ff00ff" stroke-width="1.0"/><polygon points="422.00,105.74 425.96,109.70 422.00,113.66 418.04,109.70" fill="#fff" stroke="#ff00ff" stroke-width="1.0"/><polygon points="432.50,104.74 436.46,108.70 432.50,112.66 428.54,108.70" fill="#fff" stroke="#ff00ff" stroke-width="1.0"/><polygon points="442.40,104.74 446.36,108.70 442.40,112.66 438.44,108.70" fill="#fff" stroke="#ff00ff" stroke-width="1.0"/><polygon points="452.80,106.34 456.76,110.30 452.80,114.26 448.84,110.30" fill="#fff" stroke="#ff00ff" stroke-width="1.0"/><polygon points="463.30,106.34 467.26,110.30 463.30,114.26 459.34,110.30" fill="#fff" stroke="#ff00ff" stroke-width="1.0"/><polygon points="476.30,108.94 480.26,112.90 476.30,116.86 472.34,112.90" fill="#fff" stroke="#ff00ff" stroke-width="1.0"/><polygon points="484.10,106.34 488.06,110.30 484.10,114.26 480.14,110.30" fill="#fff" stroke="#ff00ff" stroke-width="1.0"/><polygon points="494.60,106.94 498.56,110.90 494.60,114.86 490.64,110.90" fill="#fff" stroke="#ff00ff" stroke-width="1.0"/><polygon points="505.00,106.34 508.96,110.30 505.00,114.26 501.04,110.30" fill="#fff" stroke="#ff00ff" stroke-width="1.0"/><polygon points="520.80,108.94 524.76,112.90 520.80,116.86 516.84,112.90" fill="#fff" stroke="#ff00ff" stroke-width="1.0"/><path d="M318.00,90.50 C321.37,88.83 321.27,88.57 328.10,85.50 C334.93,82.43 331.57,83.63 338.50,81.30 C345.43,78.97 338.50,80.43 348.90,78.50 C359.30,76.57 355.93,77.33 369.70,75.50 C383.47,73.67 376.97,74.63 390.20,73.00 C403.43,71.37 398.80,71.77 409.40,70.60 C420.00,69.43 414.30,70.37 422.00,69.50 C429.70,68.63 425.70,69.03 432.50,68.00 C439.30,66.97 435.63,67.07 442.40,66.40 C449.17,65.73 445.83,66.00 452.80,66.00 C459.77,66.00 455.47,66.57 463.30,66.40 C471.13,66.23 469.37,66.37 476.30,65.50 C483.23,64.63 478.00,64.37 484.10,63.80 C490.20,63.23 487.63,63.80 494.60,63.80 C501.57,63.80 496.27,64.53 505.00,63.80 C513.73,63.07 515.53,62.33 520.80,61.60" fill="none" stroke="#00f0f0" stroke-width="1.6" stroke-linejoin="round"/><polygon points="318.00,94.22 321.53,88.27 314.47,88.27" fill="#fff" stroke="#00f0f0" stroke-width="1.0"/><polygon points="328.10,89.22 331.63,83.27 324.57,83.27" fill="#fff" stroke="#00f0f0" stroke-width="1.0"/><polygon points="338.50,85.02 342.03,79.07 334.97,79.07" fill="#fff" stroke="#00f0f0" stroke-width="1.0"/><polygon points="348.90,82.22 352.43,76.27 345.37,76.27" fill="#fff" stroke="#00f0f0" stroke-width="1.0"/><polygon points="369.70,79.22 373.23,73.27 366.17,73.27" fill="#fff" stroke="#00f0f0" stroke-width="1.0"/><polygon points="390.20,76.72 393.73,70.77 386.67,70.77" fill="#fff" stroke="#00f0f0" stroke-width="1.0"/><polygon points="409.40,74.32 412.93,68.37 405.87,68.37" fill="#fff" stroke="#00f0f0" stroke-width="1.0"/><polygon points="422.00,73.22 425.53,67.27 418.47,67.27" fill="#fff" stroke="#00f0f0" stroke-width="1.0"/><polygon points="432.50,71.72 436.03,65.77 428.97,65.77" fill="#fff" stroke="#00f0f0" stroke-width="1.0"/><polygon points="442.40,70.12 445.93,64.17 438.87,64.17" fill="#fff" stroke="#00f0f0" stroke-width="1.0"/><polygon points="452.80,69.72 456.33,63.77 449.27,63.77" fill="#fff" stroke="#00f0f0" stroke-width="1.0"/><polygon points="463.30,70.12 466.83,64.17 459.77,64.17" fill="#fff" stroke="#00f0f0" stroke-width="1.0"/><polygon points="476.30,69.22 479.83,63.27 472.77,63.27" fill="#fff" stroke="#00f0f0" stroke-width="1.0"/><polygon points="484.10,67.52 487.63,61.57 480.57,61.57" fill="#fff" stroke="#00f0f0" stroke-width="1.0"/><polygon points="494.60,67.52 498.13,61.57 491.07,61.57" fill="#fff" stroke="#00f0f0" stroke-width="1.0"/><polygon points="505.00,67.52 508.53,61.57 501.47,61.57" fill="#fff" stroke="#00f0f0" stroke-width="1.0"/><polygon points="520.80,65.32 524.33,59.37 517.27,59.37" fill="#fff" stroke="#00f0f0" stroke-width="1.0"/><path d="M318.00,134.60 C321.37,127.00 321.27,123.33 328.10,111.80 C334.93,100.27 331.57,104.50 338.50,100.00 C345.43,95.50 338.50,105.53 348.90,98.30 C359.30,91.07 355.93,87.47 369.70,78.30 C383.47,69.13 376.97,75.53 390.20,70.80 C403.43,66.07 398.80,66.53 409.40,64.10 C420.00,61.67 414.30,64.87 422.00,63.50 C429.70,62.13 425.70,62.80 432.50,60.00 C439.30,57.20 435.63,58.60 442.40,55.10 C449.17,51.60 445.83,52.07 452.80,49.50 C459.77,46.93 455.47,49.43 463.30,47.40 C471.13,45.37 469.37,39.87 476.30,43.40 C483.23,46.93 478.00,58.30 484.10,58.00 C490.20,57.70 487.63,44.17 494.60,42.50 C501.57,40.83 496.27,55.03 505.00,53.00 C513.73,50.97 515.53,41.93 520.80,36.40" fill="none" stroke="#ff8000" stroke-width="1.6" stroke-linejoin="round"/><polygon points="318.00,130.88 318.98,133.25 321.54,133.45 319.59,135.12 320.19,137.61 318.00,136.27 315.81,137.61 316.41,135.12 314.46,133.45 317.02,133.25" fill="#fff" stroke="#ff8000" stroke-width="1.0"/><polygon points="328.10,108.08 329.08,110.45 331.64,110.65 329.69,112.32 330.29,114.81 328.10,113.47 325.91,114.81 326.51,112.32 324.56,110.65 327.12,110.45" fill="#fff" stroke="#ff8000" stroke-width="1.0"/><polygon points="338.50,96.28 339.48,98.65 342.04,98.85 340.09,100.52 340.69,103.01 338.50,101.67 336.31,103.01 336.91,100.52 334.96,98.85 337.52,98.65" fill="#fff" stroke="#ff8000" stroke-width="1.0"/><polygon points="348.90,94.58 349.88,96.95 352.44,97.15 350.49,98.82 351.09,101.31 348.90,99.97 346.71,101.31 347.31,98.82 345.36,97.15 347.92,96.95" fill="#fff" stroke="#ff8000" stroke-width="1.0"/><polygon points="369.70,74.58 370.68,76.95 373.24,77.15 371.29,78.82 371.89,81.31 369.70,79.97 367.51,81.31 368.11,78.82 366.16,77.15 368.72,76.95" fill="#fff" stroke="#ff8000" stroke-width="1.0"/><polygon points="390.20,67.08 391.18,69.45 393.74,69.65 391.79,71.32 392.39,73.81 390.20,72.47 388.01,73.81 388.61,71.32 386.66,69.65 389.22,69.45" fill="#fff" stroke="#ff8000" stroke-width="1.0"/><polygon points="409.40,60.38 410.38,62.75 412.94,62.95 410.99,64.62 411.59,67.11 409.40,65.77 407.21,67.11 407.81,64.62 405.86,62.95 408.42,62.75" fill="#fff" stroke="#ff8000" stroke-width="1.0"/><polygon points="422.00,59.78 422.98,62.15 425.54,62.35 423.59,64.02 424.19,66.51 422.00,65.17 419.81,66.51 420.41,64.02 418.46,62.35 421.02,62.15" fill="#fff" stroke="#ff8000" stroke-width="1.0"/><polygon points="432.50,56.28 433.48,58.65 436.04,58.85 434.09,60.52 434.69,63.01 432.50,61.67 430.31,63.01 430.91,60.52 428.96,58.85 431.52,58.65" fill="#fff" stroke="#ff8000" stroke-width="1.0"/><polygon points="442.40,51.38 443.38,53.75 445.94,53.95 443.99,55.62 444.59,58.11 442.40,56.77 440.21,58.11 440.81,55.62 438.86,53.95 441.42,53.75" fill="#fff" stroke="#ff8000" stroke-width="1.0"/><polygon points="452.80,45.78 453.78,48.15 456.34,48.35 454.39,50.02 454.99,52.51 452.80,51.17 450.61,52.51 451.21,50.02 449.26,48.35 451.82,48.15" fill="#fff" stroke="#ff8000" stroke-width="1.0"/><polygon points="463.30,43.68 464.28,46.05 466.84,46.25 464.89,47.92 465.49,50.41 463.30,49.07 461.11,50.41 461.71,47.92 459.76,46.25 462.32,46.05" fill="#fff" stroke="#ff8000" stroke-width="1.0"/><polygon points="476.30,39.68 477.28,42.05 479.84,42.25 477.89,43.92 478.49,46.41 476.30,45.07 474.11,46.41 474.71,43.92 472.76,42.25 475.32,42.05" fill="#fff" stroke="#ff8000" stroke-width="1.0"/><polygon points="484.10,54.28 485.08,56.65 487.64,56.85 485.69,58.52 486.29,61.01 484.10,59.67 481.91,61.01 482.51,58.52 480.56,56.85 483.12,56.65" fill="#fff" stroke="#ff8000" stroke-width="1.0"/><polygon points="494.60,38.78 495.58,41.15 498.14,41.35 496.19,43.02 496.79,45.51 494.60,44.17 492.41,45.51 493.01,43.02 491.06,41.35 493.62,41.15" fill="#fff" stroke="#ff8000" stroke-width="1.0"/><polygon points="505.00,49.28 505.98,51.65 508.54,51.85 506.59,53.52 507.19,56.01 505.00,54.67 502.81,56.01 503.41,53.52 501.46,51.85 504.02,51.65" fill="#fff" stroke="#ff8000" stroke-width="1.0"/><polygon points="520.80,32.68 521.78,35.05 524.34,35.25 522.39,36.92 522.99,39.41 520.80,38.07 518.61,39.41 519.21,36.92 517.26,35.25 519.82,35.05" fill="#fff" stroke="#ff8000" stroke-width="1.0"/><text transform="translate(313.60,179.30) scale(1.035,1.22)" font-size="13.5" text-anchor="end" >1</text><text transform="translate(313.60,145.72) scale(1.035,1.22)" font-size="13.5" text-anchor="end" >10</text><text transform="translate(313.60,112.14) scale(1.035,1.22)" font-size="13.5" text-anchor="end" >100</text><text transform="translate(313.60,78.56) scale(1.035,1.22)" font-size="13.5" text-anchor="end" >1000</text><text transform="translate(313.60,44.98) scale(1.035,1.22)" font-size="13.5" text-anchor="end" >10000</text><text transform="translate(313.60,11.40) scale(1.035,1.22)" font-size="13.5" text-anchor="end" >100000</text><text transform="translate(318.10,190.40) scale(1.035,1.22)" font-size="13.5" text-anchor="middle" >5</text><text transform="translate(369.85,190.40) scale(1.035,1.22)" font-size="13.5" text-anchor="middle" >10</text><text transform="translate(421.60,190.40) scale(1.035,1.22)" font-size="13.5" text-anchor="middle" >15</text><text transform="translate(473.35,190.40) scale(1.035,1.22)" font-size="13.5" text-anchor="middle" >20</text><text transform="translate(525.10,190.40) scale(1.035,1.22)" font-size="13.5" text-anchor="middle" >25</text><text transform="translate(422.0,201.9) scale(1.035,1.13)" font-size="13.5" text-anchor="middle"><tspan font-style="italic">T</tspan> / K</text><text transform="translate(277.0,90.9) rotate(-90) scale(1.22,1.035)" font-size="12.2" text-anchor="middle"><tspan font-style="italic">u</tspan>(<tspan font-style="italic">D</tspan>) / cm<tspan font-size="6.5" dy="-5.5">9</tspan><tspan dy="5.5">·mol</tspan><tspan font-size="6.5" dy="-5.5">&#8722;3</tspan></text><text transform="translate(397.3,228.2) scale(1,1.05)" font-size="13.6" stroke="#000" stroke-width="0.3" text-anchor="middle">(b) <tspan font-style="italic">u</tspan>(<tspan font-style="italic">D</tspan>)</text><rect x="367.3" y="128.6" width="156.1" height="38.8" fill="#fff" stroke="#8a8a8a" stroke-width="0.8"/><line x1="373.2" y1="134.7" x2="395.5" y2="134.7" stroke="#3c3c3c" stroke-width="1.9"/><rect x="382.10" y="132.45" width="4.50" height="4.50" fill="#fff" stroke="#3c3c3c" stroke-width="1.0"/><text x="397.09999999999997" y="138.1" font-size="9.5">Total uncertainty <tspan font-style="italic">u</tspan>(<tspan font-style="italic">T</tspan>)</text><line x1="373.2" y1="147.8" x2="395.5" y2="147.8" stroke="#c80000" stroke-width="1.9"/><polygon points="384.35,143.60 388.10,150.40 380.60,150.40" fill="#fff" stroke="#c80000" stroke-width="1"/><text x="397.09999999999997" y="151.20000000000002" font-size="9.5"><tspan font-style="italic">f</tspan></text><line x1="406.8" y1="147.8" x2="429.1" y2="147.8" stroke="#0a900a" stroke-width="1.9"/><circle cx="417.95" cy="147.80" r="3.25" fill="#fff" stroke="#0a900a" stroke-width="1.0"/><text x="429.8" y="151.20000000000002" font-size="9.5"><tspan font-style="italic">p</tspan></text><line x1="444.4" y1="147.8" x2="466.7" y2="147.8" stroke="#0a0ae6" stroke-width="1.9"/><polygon points="451.35,147.80 458.15,144.05 458.15,151.55" fill="#fff" stroke="#0a0ae6" stroke-width="1"/><text x="468.59999999999997" y="151.20000000000002" font-size="9.5">Mode scatter</text><line x1="373.2" y1="161.2" x2="395.5" y2="161.2" stroke="#ff00ff" stroke-width="1.9"/><polygon points="384.35,157.37 388.18,161.20 384.35,165.03 380.52,161.20" fill="#fff" stroke="#ff00ff" stroke-width="1.0"/><text x="397.09999999999997" y="164.6" font-size="9.5"><tspan font-style="italic">C</tspan></text><line x1="407.8" y1="161.2" x2="430.1" y2="161.2" stroke="#00f0f0" stroke-width="1.9"/><polygon points="418.95,165.40 422.70,158.60 415.20,158.60" fill="#fff" stroke="#00f0f0" stroke-width="1"/><text x="431.6" y="164.6" font-size="9.5"><tspan font-style="italic">B</tspan></text><line x1="444.4" y1="161.2" x2="466.7" y2="161.2" stroke="#ff8000" stroke-width="1.9"/><polygon points="455.55,157.17 456.62,159.73 459.38,159.95 457.27,161.76 457.92,164.46 455.55,163.01 453.18,164.46 453.83,161.76 451.72,159.95 454.48,159.73" fill="#fff" stroke="#ff8000" stroke-width="1.0"/><text x="468.59999999999997" y="164.6" font-size="9.5">Fitting model</text></svg></body></html>
